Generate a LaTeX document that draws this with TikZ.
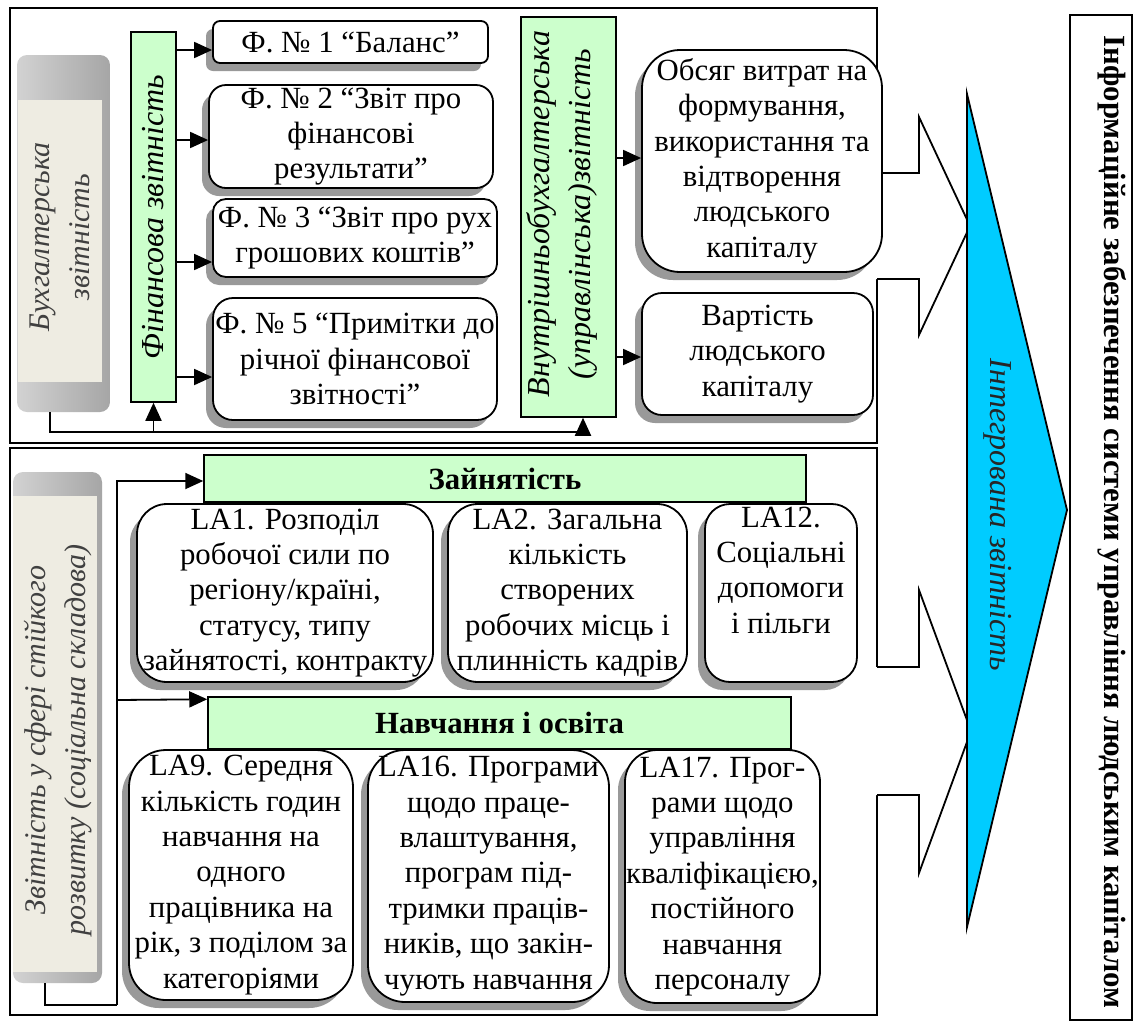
\documentclass[tikz,border=0pt]{standalone}
\usepackage{fontspec}
\setmainfont{Liberation Serif}
\usetikzlibrary{arrows.meta,shadows,calc}
\definecolor{barg}{RGB}{204,255,204}
\definecolor{tricol}{RGB}{0,204,255}
\definecolor{beige}{RGB}{238,236,226}
\newcommand\bxfont{\fontsize{30.8}{35.4}\selectfont}
\newcommand\lbfont{\fontsize{32}{40.5}\selectfont\itshape}
\newcommand\gbfont{\fontsize{30}{40.5}\selectfont\itshape}
\begin{document}
\begin{tikzpicture}[x=1pt,y=-1pt,
 lw/.style={line width=1.8pt},
 arr/.style={line width=1.8pt,-{Triangle[length=18pt,width=16pt]}},
 box/.style={draw,line width=1.8pt,fill=white,inner sep=0pt,
   drop shadow={shadow xshift=-7pt,shadow yshift=-8pt,fill=black!40,opacity=1}},
 txt/.style={align=center,inner sep=0pt,font=\bxfont},
 bar/.style={draw,line width=1.5pt,fill=barg,inner sep=0pt},
 geo/.style={inner sep=0pt,outer sep=0pt},
 lbl/.style={align=center,inner sep=0pt,font=\lbfont},
 glbl/.style={align=center,inner sep=0pt,font=\gbfont,text=black!75},
 barb/.style={line width=1.8pt,line join=miter}
]
\useasboundingbox (0,0) rectangle (1137,1026);
\fill[white] (0,0) rectangle (1137,1026);

% panels
\draw[lw] (10,8) rectangle (877,443);
\draw[lw] (10,448) rectangle (877,1015);
\draw[lw] (1070,15) rectangle (1132,1020);

% block arrows toward the triangle
\fill[white] (872,173) -- (919,173) -- (919,117) -- (970,226) -- (919,335) -- (919,279) -- (872,279) -- cycle;
\draw[barb] (877,173) -- (919,173) -- (919,117) -- (970,226) -- (919,335) -- (919,279) -- (877,279);
\fill[white] (872,667) -- (919,667) -- (919,590) -- (971,731) -- (919,873) -- (919,795) -- (872,795) -- cycle;
\draw[barb] (877,667) -- (919,667) -- (919,590) -- (971,731) -- (919,873) -- (919,795) -- (877,795);

% bevel boxes
\shade[rounded corners=10pt,left color=gray!35,right color=gray!70] (17,55) rectangle (110,412);
\fill[beige] (18,100) rectangle (102,382);
\node[geo,minimum width=93pt,minimum height=357pt] (buh) at (63.5,233.5) {};
\node[glbl,rotate=90] (buht) at (60,237) {Бухгалтерська\\звітність};

\shade[rounded corners=10pt,left color=gray!35,right color=gray!70] (13,472) rectangle (102,983);
\fill[beige] (13,496) rectangle (97,972);
\node[geo,minimum width=89pt,minimum height=511pt] (sz) at (57.5,727.5) {};
\node[glbl,rotate=90] (szt) at (58,740) {Звітність у сфері стійкого\\розвитку (соціальна складова)};

% green bars
\node[bar,minimum width=45pt,minimum height=370pt] (fin) at (153.5,217) {};
\node[lbl,rotate=90] (fint) at (153.5,217) {Фінансова звітність};
\node[bar,minimum width=95pt,minimum height=400pt] (vint) at (568.5,217) {};
\node[lbl,rotate=90] (vintt) at (562,214) {Внутрішньобухгалтерська\\(управлінська)звітність};
\node[bar,minimum width=602pt,minimum height=47pt,font=\bxfont\bfseries] (zai) at (505,478.5) {Зайнятість};
\node[bar,minimum width=583pt,minimum height=52pt,font=\bxfont\bfseries] (nav) at (499.5,723) {Навчання і освіта};

% boxes, top panel
\node[box,minimum width=275pt,minimum height=42pt,rounded corners=7pt] (f1) at (350.5,42) {};
\node[txt] (f1t) at (f1) {Ф. № 1 “Баланс”};
\node[box,minimum width=284pt,minimum height=103pt,rounded corners=17pt] (f2) at (351,136.5) {};
\node[txt] (f2t) at (f2) {Ф. № 2 “Звіт про\\фінансові\\результати”};
\node[box,minimum width=284pt,minimum height=78pt,rounded corners=13pt] (f3) at (355,238) {};
\node[txt] (f3t) at (f3) {Ф. № 3 “Звіт про рух\\грошових коштів”};
\node[box,minimum width=284pt,minimum height=122pt,rounded corners=20pt] (f5) at (355,359) {};
\node[txt] (f5t) at (f5) {Ф. № 5 “Примітки до\\річної фінансової\\звітності”};
\node[box,minimum width=240pt,minimum height=222pt,rounded corners=38pt] (obs) at (762,161) {};
\node[txt] (obst) at (obs) {Обсяг витрат на\\формування,\\використання та\\відтворення\\людського\\капіталу};
\node[box,minimum width=231pt,minimum height=122pt,rounded corners=20pt] (var) at (757.5,354) {};
\node[txt] (vart) at (var) {Вартість\\людського\\капіталу};

% boxes, bottom panel
\node[box,minimum width=296pt,minimum height=178pt,rounded corners=30pt] (la1) at (285,593) {};
\node[txt] (la1t) at (la1) {LA1. Розподіл\\робочої сили по\\регіону/країні,\\статусу, типу\\зайнятості, контракту};
\node[box,minimum width=239pt,minimum height=178pt,rounded corners=30pt] (la2) at (567.5,593) {};
\node[txt] (la2t) at (la2) {LA2. Загальна\\кількість\\створених\\робочих місць і\\плинність кадрів};
\node[box,minimum width=152pt,minimum height=178pt,rounded corners=25pt] (la12) at (781,593) {};
\node[txt] (la12t) at (la12) {LA12.\\Соціальні\\допомоги\\і пільги\\\strut};
\node[box,minimum width=224pt,minimum height=250pt,rounded corners=37pt] (la9) at (241,875) {};
\node[txt] (la9t) at (la9) {LA9. Середня\\кількість годин\\навчання на\\одного\\працівника на\\рік, з поділом за\\категоріями};
\node[box,minimum width=241pt,minimum height=252pt,rounded corners=37pt] (la16) at (488.5,876) {};
\node[txt] (la16t) at (la16) {LA16. Програми\\щодо праце-\\влаштування,\\програм під-\\тримки праців-\\ників, що закін-\\чують навчання};
\node[box,minimum width=195pt,minimum height=253pt,rounded corners=32pt] (la17) at (722.5,876.5) {};
\node[txt] (la17t) at (la17) {LA17. Прог-\\рами щодо\\управління\\кваліфікацією,\\постійного\\навчання\\персоналу};

% connectors, top panel
\draw[arr] (fin.east |- 0,50) -- (f1.west |- 0,50);
\draw[arr] (fin.east |- 0,140) -- (f2.west |- 0,140);
\draw[arr] (fin.east |- 0,262) -- (f3.west |- 0,262);
\draw[arr] (fin.east |- 0,377) -- (f5.west |- 0,377);
\draw[arr] (vint.east |- 0,158) -- (obs.west |- 0,158);
\draw[arr] (vint.east |- 0,357) -- (var.west |- 0,357);
\draw[arr,line join=miter] ([xshift=-13.5pt]buh.south) -- ++(0,20) -| ([xshift=14.5pt]vint.south);
\draw[arr] (fin.south |- 0,432) -- (fin.south);

% connectors, bottom panel
\coordinate (bus) at (117,1005);
\draw[lw,line join=miter] ([xshift=-12.5pt]sz.south) |- (bus);
\draw[arr,line join=miter] (bus) |- ([yshift=-2.5pt]zai.west);
\draw[arr] (bus |- 0,700) -- ([yshift=-3pt]nav.north west);

% integrated reporting triangle
\draw[lw,fill=tricol,line join=miter] (967,94) -- (1067,510) -- (967,927) -- cycle;
\node[font=\fontsize{32}{36}\selectfont\itshape,rotate=-90,inner sep=0pt,text=black!85] (intg) at (998,515) {Інтегрована звітність};

\node[font=\bxfont\bfseries,rotate=-90,inner sep=0pt] (info) at (1112,522) {Інформаційне забезпечення системи управління людським капіталом};
\end{tikzpicture}
\end{document}
